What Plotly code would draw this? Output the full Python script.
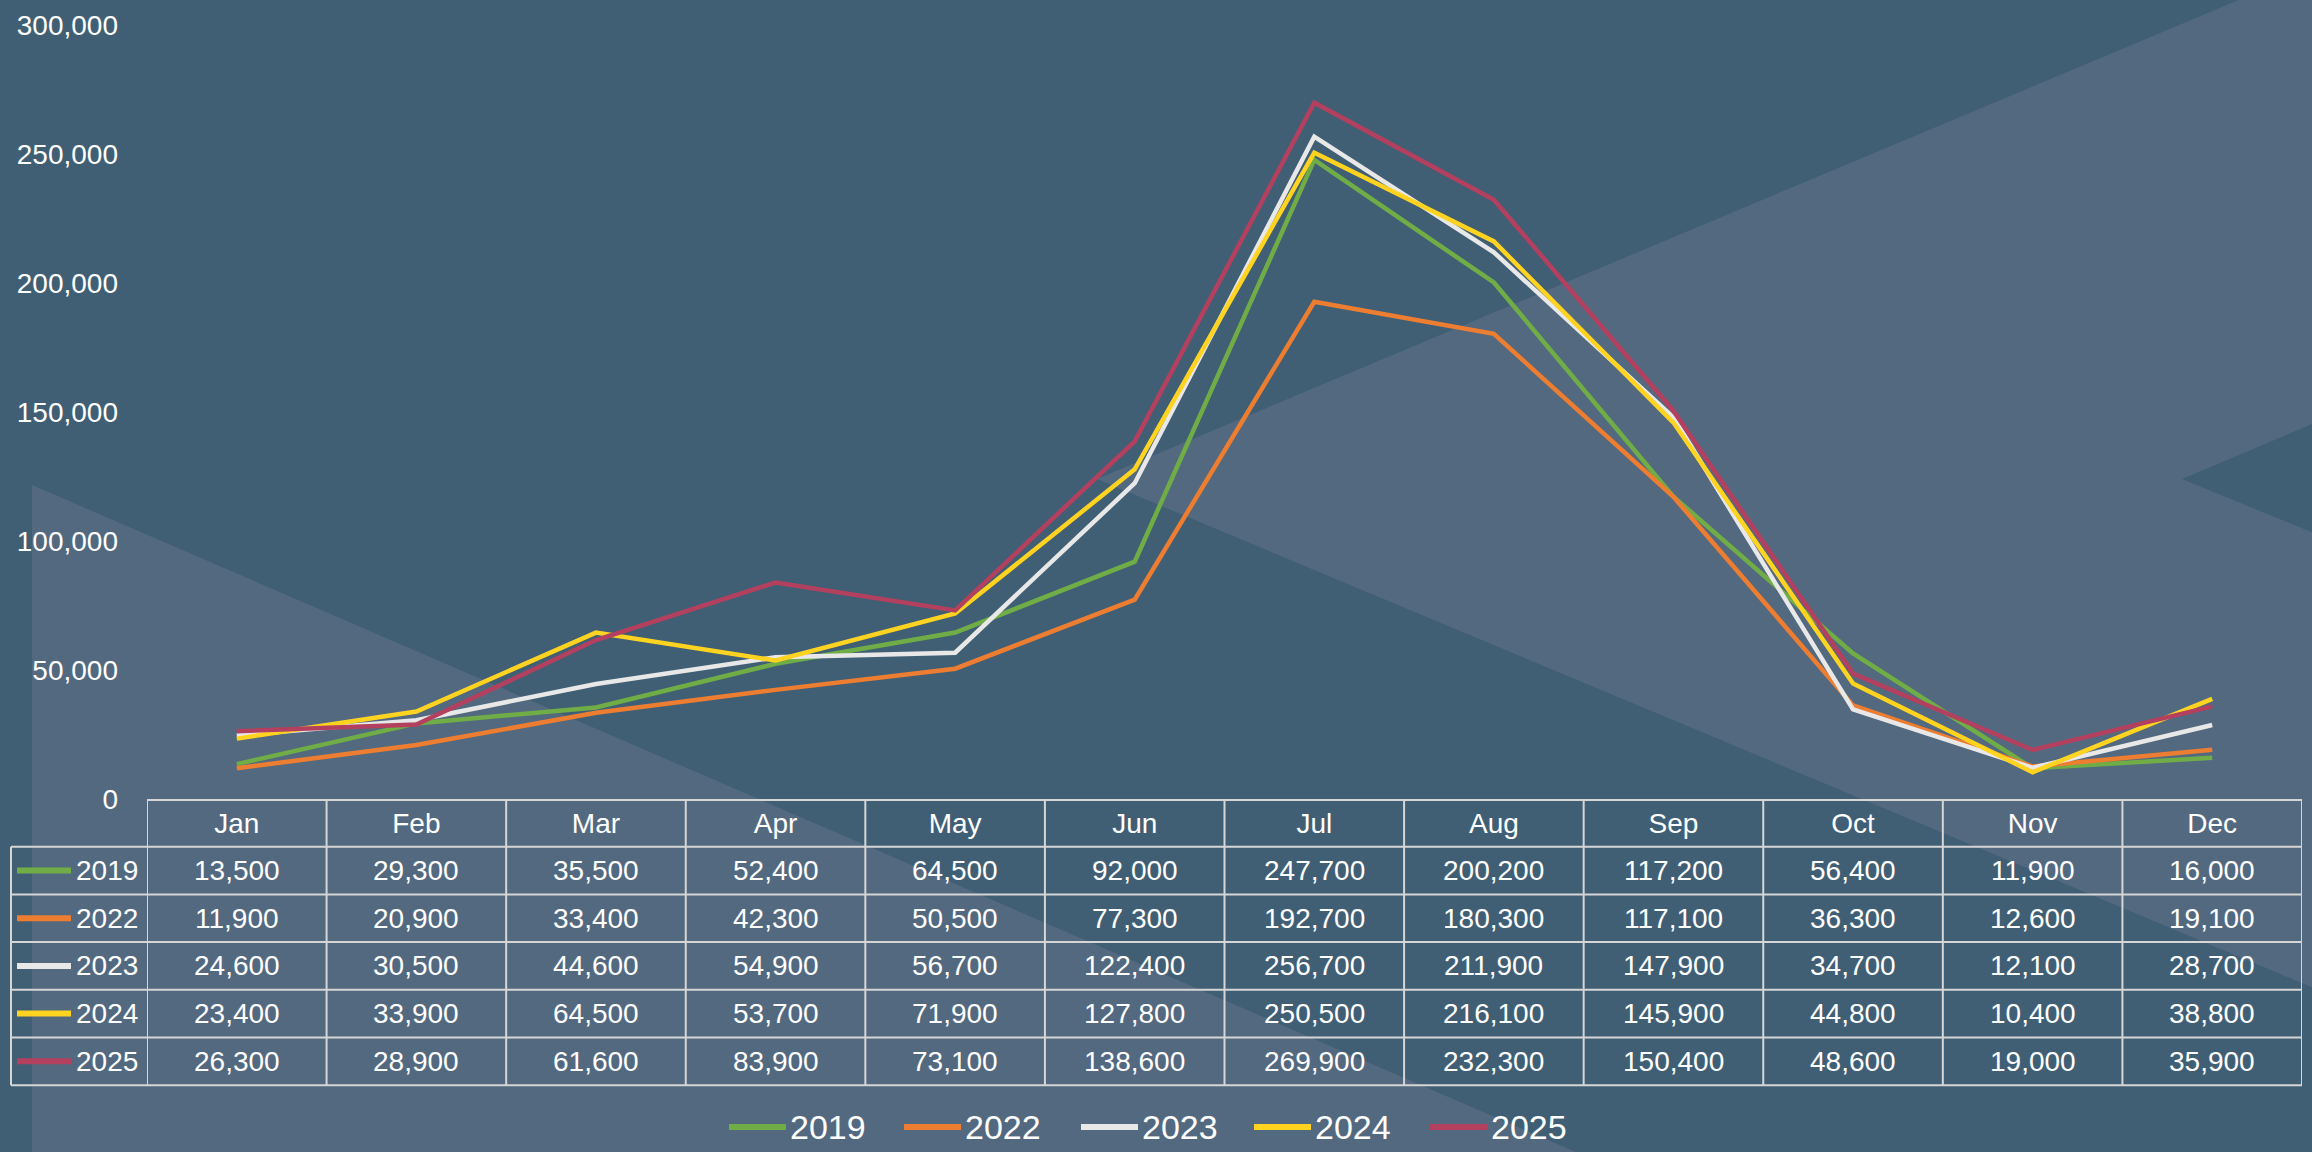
import plotly.graph_objects as go

# ---------------- data ----------------
months = ["Jan", "Feb", "Mar", "Apr", "May", "Jun", "Jul", "Aug", "Sep", "Oct", "Nov", "Dec"]
years = ["2019", "2022", "2023", "2024", "2025"]
v2019 = [13500, 29300, 35500, 52400, 64500, 92000, 247700, 200200, 117200, 56400, 11900, 16000]
v2022 = [11900, 20900, 33400, 42300, 50500, 77300, 192700, 180300, 117100, 36300, 12600, 19100]
v2023 = [24600, 30500, 44600, 54900, 56700, 122400, 256700, 211900, 147900, 34700, 12100, 28700]
v2024 = [23400, 33900, 64500, 53700, 71900, 127800, 250500, 216100, 145900, 44800, 10400, 38800]
v2025 = [26300, 28900, 61600, 83900, 73100, 138600, 269900, 232300, 150400, 48600, 19000, 35900]
series = [v2019, v2022, v2023, v2024, v2025]
y_tickvals = [0, 50000, 100000, 150000, 200000, 250000, 300000]

# ---------------- style ----------------
colors = ["#70AD47", "#ED7D31", "#E8E8E8", "#FFD320", "#B3405F"]
BG_DARK = "#405F75"
BG_LIGHT = "#53697F"
GRID = "#D6D6D6"
TXT = "#FFFFFF"
FONT = "Liberation Sans, Arial, sans-serif"

W, H = 2312, 1152
L, R, T, B = 147, 10, 20, 353
PW, PH = W - L - R, H - T - B


def px(x):
    return (x - L) / PW


def py(y):
    return (H - B - y) / PH


def poly(points):
    return "M " + " L ".join(f"{px(a):.5f},{py(b):.5f}" for a, b in points) + " Z"


fig = go.Figure()
for name, vals, c in zip(years, series, colors):
    fig.add_trace(go.Scatter(x=months, y=vals, name=name, mode="lines",
                             line=dict(color=c, width=4.5), showlegend=False))

shapes = []
# background decorative polygons
shapes.append(dict(type="path", xref="paper", yref="paper", layer="below",
                   path=poly([(32, 483), (1598, 1164), (32, 1164)]),
                   fillcolor=BG_LIGHT, line=dict(width=0)))
shapes.append(dict(type="path", xref="paper", yref="paper", layer="below",
                   path=poly([(1097, 477), (2255, -12), (2330, -12), (2330, 414), (2182, 477),
                              (2330, 538), (2330, 996)]),
                   fillcolor=BG_LIGHT, line=dict(width=0)))

# data table grid
row_top = 847
row_h = 48
n_rows = len(years)
table_bottom = row_top + row_h * n_rows
for k in range(n_rows + 1):
    yy = row_top + k * row_h
    shapes.append(dict(type="line", xref="paper", yref="paper", x0=px(11), x1=px(2302),
                       y0=py(yy), y1=py(yy), line=dict(color=GRID, width=2)))
for k in range(len(months) + 1):
    xx = -0.5 + k
    shapes.append(dict(type="line", xref="x", yref="paper", x0=xx, x1=xx,
                       y0=py(799), y1=py(table_bottom), line=dict(color=GRID, width=2)))
shapes.append(dict(type="line", xref="paper", yref="paper", x0=px(11), x1=px(11),
                   y0=py(row_top), y1=py(table_bottom), line=dict(color=GRID, width=2)))

annotations = []
for r, (name, vals, c) in enumerate(zip(years, series, colors)):
    yc = row_top + row_h * r + row_h / 2
    shapes.append(dict(type="line", xref="paper", yref="paper", x0=px(17), x1=px(71),
                       y0=py(yc), y1=py(yc), line=dict(color=c, width=6)))
    annotations.append(dict(xref="paper", yref="paper", x=px(140), y=py(yc), text=name,
                            showarrow=False, xanchor="right", yanchor="middle",
                            font=dict(family=FONT, size=28, color=TXT)))
    for i, v in enumerate(vals):
        annotations.append(dict(xref="x", yref="paper", x=i, y=py(yc), text=f"{v:,}",
                                showarrow=False, xanchor="center", yanchor="middle",
                                font=dict(family=FONT, size=28, color=TXT)))

# bottom legend
leg_line_x = [729, 904, 1081, 1254, 1430]
leg_y = 1129
for name, c, x0 in zip(years, colors, leg_line_x):
    shapes.append(dict(type="line", xref="paper", yref="paper", x0=px(x0), x1=px(x0 + 57),
                       y0=py(leg_y), y1=py(leg_y), line=dict(color=c, width=6)))
    annotations.append(dict(xref="paper", yref="paper", x=px(x0 + 59), y=py(leg_y), text=name,
                            showarrow=False, xanchor="left", yanchor="middle",
                            font=dict(family=FONT, size=34, color=TXT)))

fig.update_layout(
    width=W, height=H,
    margin=dict(l=L, r=R, t=T, b=B, pad=0),
    paper_bgcolor=BG_DARK,
    plot_bgcolor="rgba(0,0,0,0)",
    shapes=shapes,
    annotations=annotations,
    showlegend=False,
    xaxis=dict(type="category", categoryorder="array", categoryarray=months,
               range=[-0.5, 11.5], showgrid=False, zeroline=False,
               showline=True, linecolor=GRID, linewidth=2, ticks="",
               tickfont=dict(family=FONT, size=28, color=TXT), ticklabelstandoff=-2),
    yaxis=dict(range=[0, 300000], tickvals=y_tickvals, tickformat=",",
               showgrid=False, zeroline=False, showline=False, ticks="",
               tickfont=dict(family=FONT, size=28, color=TXT), ticklabelstandoff=28),
)

fig.write_html("out.html", config={"displayModeBar": False},
               post_script="document.body.style.margin='0';document.body.style.overflow='hidden';")
